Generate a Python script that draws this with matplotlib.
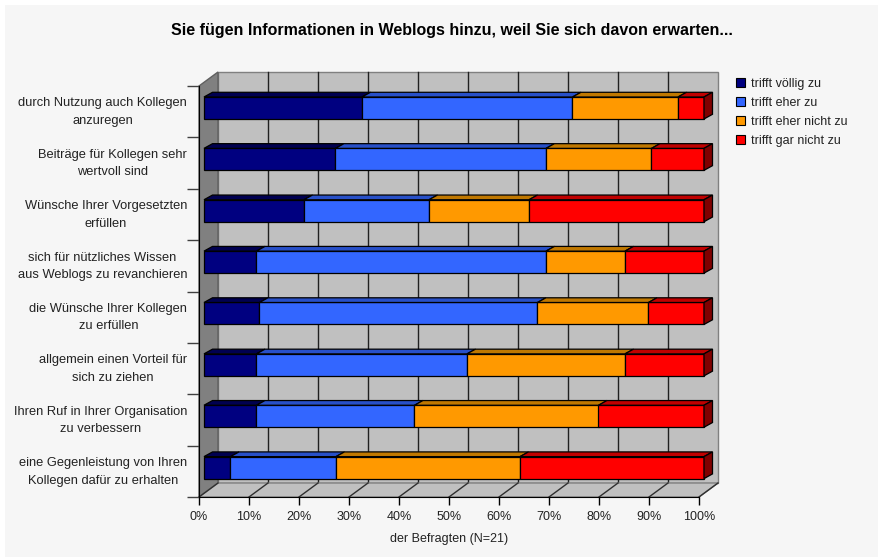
import matplotlib
matplotlib.use('Agg')
import matplotlib.pyplot as plt
from matplotlib.patches import Polygon, Rectangle, Patch
import numpy as np

plt.rcParams['font.family'] = ['Liberation Sans', 'DejaVu Sans']

# ─── DATA ───────────────────────────────────────────────────────────────────
categories = [
    'durch Nutzung auch Kollegen\nanzuregen',
    'Beiträge für Kollegen sehr\nwertvoll sind',
    'Wünsche Ihrer Vorgesetzten\nerfüllen',
    'sich für nützliches Wissen\naus Weblogs zu revanchieren',
    'die Wünsche Ihrer Kollegen\nzu erfüllen',
    'allgemein einen Vorteil für\nsich zu ziehen',
    'Ihren Ruf in Ihrer Organisation\nzu verbessern',
    'eine Gegenleistung von Ihren\nKollegen dafür zu erhalten',
]
series = ['trifft völlig zu', 'trifft eher zu', 'trifft eher nicht zu', 'trifft gar nicht zu']
voellig    = [31.6, 26.3, 20.0, 10.5, 11.1, 10.5, 10.5, 5.3]
eher       = [42.1, 42.1, 25.0, 57.9, 55.6, 42.1, 31.6, 21.1]
eher_nicht = [21.1, 21.1, 20.0, 15.8, 22.2, 31.6, 36.8, 36.8]
gar_nicht  = [5.2, 10.5, 35.0, 15.8, 11.1, 15.8, 21.1, 36.8]
xticks = list(range(0, 101, 10))

front_colors = ['#000080', '#3366ff', '#ff9900', '#ff0000']
top_colors = ['#000050', '#2850c8', '#c07800', '#c00000']
side_color = '#800000'

# ─── FIGURE ─────────────────────────────────────────────────────────────────
W, H = 879, 557
fig = plt.figure(figsize=(W / 100, H / 100), dpi=100, facecolor='white')
fig.patches.append(Rectangle((5 / W, 0), 1, 1 - 5 / H, transform=fig.transFigure,
                             facecolor='#f6f6f6', edgecolor='none', zorder=-10))

# front plane of the 3d plot box (pixels)
x0, x1, ytop, ybot = 199, 699, 86, 497
ax = fig.add_axes([x0 / W, 1 - ybot / H, (x1 - x0) / W, (ybot - ytop) / H])
ax.set_facecolor('none')
n = len(categories)
ax.set_xlim(0, 100)
ax.set_ylim(n, 0)
sx = 100 / (x1 - x0)
sy = n / (ybot - ytop)


def off(px, py):
    # shift in pixels (right, up) -> shift in data units
    return px * sx, -py * sy


# walls and floor
wdx, wdy = off(19, 14)
ax.add_patch(Rectangle((wdx, wdy), 100, n, facecolor='#c0c0c0', edgecolor='#808080',
                       lw=1, clip_on=False, zorder=0))
for v in xticks[1:-1]:
    ax.plot([v + wdx] * 2, [wdy, n + wdy], color='#202020', lw=1, clip_on=False, zorder=0.5)
ax.add_patch(Polygon([(0, 0), (wdx, wdy), (wdx, n + wdy), (0, n)], closed=True,
                     facecolor='#808080', edgecolor='#606060', lw=1, clip_on=False, zorder=1))
ax.add_patch(Polygon([(0, n), (100, n), (100 + wdx, n + wdy), (wdx, n + wdy)], closed=True,
                     facecolor='#c0c0c0', edgecolor='#808080', lw=1, clip_on=False, zorder=1))
for v in xticks:
    ax.plot([v, v + wdx], [n, n + wdy], color='#303030', lw=1, clip_on=False, zorder=1.5)

# 3d stacked bars
data = np.array([voellig, eher, eher_nicht, gar_nicht]).T
bdx, bdy = off(5, 3.7)
ddx, ddy = off(8.5, 4.7)
bar_h = 22 * sy
for i in range(n):
    yc = i + 0.5 + bdy
    yt, yb = yc - bar_h / 2, yc + bar_h / 2
    left = 0
    for k in range(4):
        xa, xb = left + bdx, left + data[i, k] + bdx
        ax.add_patch(Rectangle((xa, yt), xb - xa, yb - yt, facecolor=front_colors[k],
                               edgecolor='black', lw=0.9, clip_on=False, zorder=3))
        ax.add_patch(Polygon([(xa, yt), (xb, yt), (xb + ddx, yt + ddy), (xa + ddx, yt + ddy)],
                             closed=True, facecolor=top_colors[k], edgecolor='black',
                             lw=0.9, clip_on=False, zorder=3))
        left += data[i, k]
    ax.add_patch(Polygon([(xb, yt), (xb + ddx, yt + ddy), (xb + ddx, yb + ddy), (xb, yb)],
                         closed=True, facecolor=side_color, edgecolor='black',
                         lw=0.9, clip_on=False, zorder=3))

# axes
for s in ['top', 'right']:
    ax.spines[s].set_visible(False)
for s in ['left', 'bottom']:
    ax.spines[s].set_color('black')
    ax.spines[s].set_zorder(2)
ax.set_xticks(xticks)
ax.set_xticklabels([f'{v}%' for v in xticks])
ax.tick_params(axis='x', length=6, width=1, color='black', labelsize=9,
               labelcolor='#222222', pad=4)
ax.set_yticks(np.arange(n) + 0.5 + bdy)
ax.set_yticklabels(categories)
ax.set_yticks(np.arange(n + 1), minor=True)
ax.tick_params(axis='y', which='major', length=0, labelsize=9.3, labelcolor='#222222', pad=8.5)
ax.tick_params(axis='y', which='minor', length=9, width=1, color='#404040')
for t in ax.get_yticklabels():
    t.set_multialignment('center')
    t.set_linespacing(1.6)
ax.set_xlabel('der Befragten (N=21)', fontsize=9, color='#222222', labelpad=7.5)

fig.text(452 / W, 1 - 30 / H, 'Sie fügen Informationen in Weblogs hinzu, weil Sie sich davon erwarten...',
         ha='center', va='center', fontsize=11.5, fontweight='bold', color='black')

handles = [Patch(facecolor=c, edgecolor='black', lw=0.8, label=s)
           for c, s in zip(front_colors, series)]
ax.legend(handles=handles, loc='upper left', bbox_to_anchor=(736 / W, 1 - 78 / H),
          bbox_transform=fig.transFigure, frameon=False, fontsize=9,
          handlelength=0.75, handleheight=0.75, handletextpad=0.45,
          labelspacing=0.55, borderpad=0, borderaxespad=0, labelcolor='#222222')

fig.savefig('out.png', dpi=100, facecolor=fig.get_facecolor())
